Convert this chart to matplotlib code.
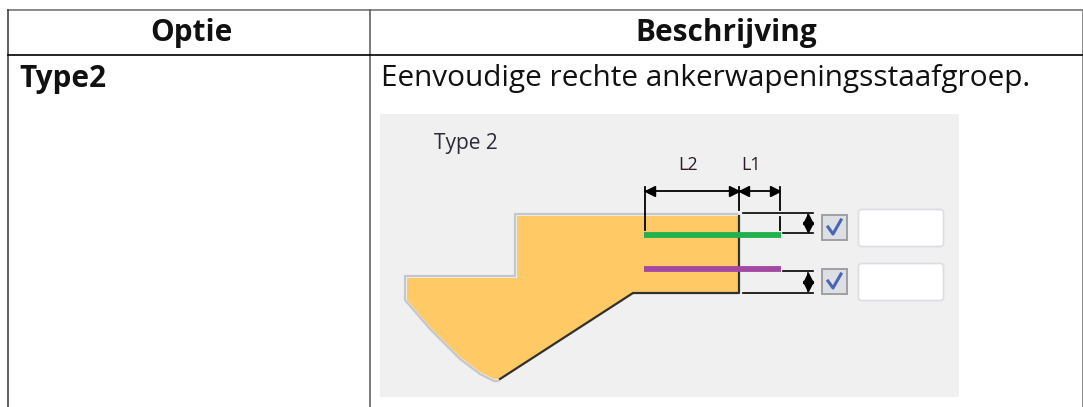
"""Option table with the Type 2 anchor bar diagram."""

import matplotlib

matplotlib.use("Agg")
import matplotlib.pyplot as plt
from matplotlib.patches import FancyBboxPatch, Polygon, Rectangle

W, H = 1083, 407

HEADERS = ["Optie", "Beschrijving"]
OPTION = "Type2"
DESCRIPTION = "Eenvoudige rechte ankerwapeningsstaafgroep."

# diagram geometry in pixels
SHAPE_X = [517, 738, 738, 633, 500, 494, 480, 460, 430, 407, 407, 517]
SHAPE_Y = [216, 216, 293, 293, 379, 379, 372, 357, 327, 300, 278, 278]
EDGE_X = [737, 515, 515, 405, 405, 430, 460, 480, 494, 498]
EDGE_Y = [214, 214, 276, 276, 300, 329, 359, 374, 381, 381]
DARK_X = [500, 633, 739, 739]
DARK_Y = [379, 293, 293, 216]
BAR_X = [644, 781]
BAR_Y = {"#22b14c": 235, "#a349a4": 269}
DIM_Y = 191
DIM_TICKS = [645, 739, 780]


def main() -> int:
    plt.rcParams["font.family"] = ["Open Sans", "DejaVu Sans"]
    fig = plt.figure(figsize=(W / 100, H / 100), dpi=100)
    ax = fig.add_axes([0, 0, 1, 1])
    ax.set_xlim(0, W)
    ax.set_ylim(H, 0)
    ax.axis("off")

    # table
    ax.plot([7.5, 1082.5, 1082.5], [9.5, 9.5, H], color="#777777", lw=1.2)
    ax.plot([7.5, 7.5], [9.5, H], color="#333333", lw=1.1)
    ax.plot([370, 370], [9.5, H], color="#555555", lw=1.1)
    ax.plot([7.5, 1082.5], [55, 55], color="black", lw=1.2)
    ax.text(191, 32.5, HEADERS[0], ha="center", va="center", fontsize=21.4, fontweight="bold", color="#111111")
    ax.text(726, 32.5, HEADERS[1], ha="center", va="center", fontsize=21.4, fontweight="bold", color="#111111")
    ax.text(19, 78.5, OPTION, ha="left", va="center", fontsize=21.4, fontweight="bold", color="#111111")
    ax.text(381, 78.5, DESCRIPTION, ha="left", va="center", fontsize=21.4, color="#111111")

    # diagram panel
    ax.add_patch(Rectangle((380, 114), 579, 283, color="#f0f0f0", lw=0))
    ax.add_patch(Polygon(list(zip(SHAPE_X, SHAPE_Y)), closed=True, color="#ffc966", lw=0))
    ax.plot(EDGE_X, EDGE_Y, color="#c6c6c6", lw=1.6)
    ax.plot(DARK_X, DARK_Y, color="#303030", lw=1.6)

    for color, y in BAR_Y.items():
        ax.plot(BAR_X, [y, y], color=color, lw=4.2, solid_capstyle="butt", zorder=4)

    # length dimensions
    ax.plot([DIM_TICKS[0], DIM_TICKS[0]], [187, 230], color="black", lw=1.3)
    ax.plot([DIM_TICKS[1], DIM_TICKS[1]], [187, 210], color="black", lw=1.3)
    ax.plot([DIM_TICKS[2], DIM_TICKS[2]], [187, 210], color="black", lw=1.3)
    ax.plot([DIM_TICKS[2], DIM_TICKS[2]], [217, 230], color="black", lw=1.3)
    ax.plot([DIM_TICKS[0], DIM_TICKS[2]], [DIM_Y, DIM_Y], color="black", lw=1.3)
    ax.plot([DIM_TICKS[0] + 5, DIM_TICKS[1] + 5], [DIM_Y, DIM_Y], ls="none", marker="<", ms=7, color="black")
    ax.plot([DIM_TICKS[1] - 5, DIM_TICKS[2] - 5], [DIM_Y, DIM_Y], ls="none", marker=">", ms=7, color="black")
    ax.text(688, 165, "L2", ha="center", va="center", fontsize=13, color="#2a1a2a")
    ax.text(751, 165, "L1", ha="center", va="center", fontsize=13, color="#2a1a2a")
    ax.text(466, 143, "Type 2", ha="center", va="center", fontsize=15, color="#2a2a3a")

    # cover dimensions, checkboxes, input boxes
    for y0, y1, x0, x1 in [(213, 233, 743, 783), (271, 293, 783, 743)]:
        ax.plot([x0, 813], [y0, y0], color="black", lw=1.2)
        ax.plot([x1, 813], [y1, y1], color="black", lw=1.2)
        mid = (y0 + y1) / 2
        ax.plot([808, 808], [y0 + 2, y1 - 2], color="black", lw=1.2)
        ax.plot([808], [mid - 4], ls="none", marker="^", ms=7, color="black")
        ax.plot([808], [mid + 4], ls="none", marker="v", ms=7, color="black")

    for top in [214, 268]:
        ax.add_patch(Rectangle((821.5, top + 0.5), 25, 25, fc="#dcdfe6", ec="#a0a0a0", lw=1.4))
        ax.plot([828, 833, 841], [top + 13, top + 20, top + 6], color="#4a66b0", lw=2.2)
    for top in [209, 263]:
        ax.add_patch(FancyBboxPatch((860, top + 2), 82, 34, boxstyle="round,pad=1.5,rounding_size=3",
                                    fc="white", ec="#dcdce2", lw=1.2))

    fig.savefig("out.png", dpi=100)
    plt.close(fig)
    return 0


if __name__ == "__main__":
    raise SystemExit(main())
